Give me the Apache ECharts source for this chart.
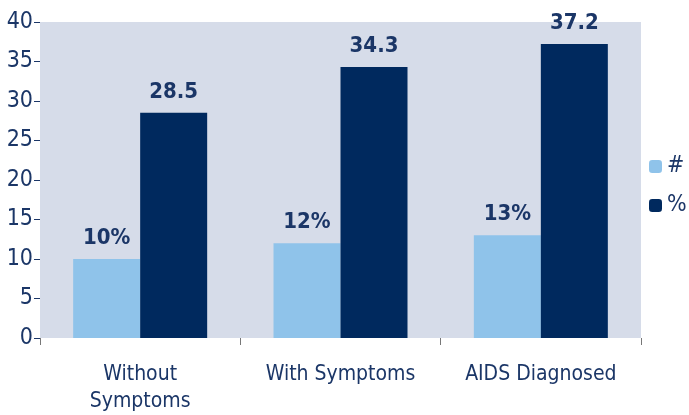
<!DOCTYPE html>
<html>
<head>
<meta charset="utf-8">
<script src="https://cdn.jsdelivr.net/npm/echarts@6/dist/echarts.min.js"></script>
</head>
<body style="margin:0">
<div id="container" style="width:689px;height:415px"></div>
<script>
  const categories = ['Without\nSymptoms', 'With Symptoms', 'AIDS Diagnosed'];
  const countValues = [10, 12, 13];
  const countLabels = ['10%', '12%', '13%'];
  const pctValues = [28.5, 34.3, 37.2];

  const font = '"Liberation Sans Narrow", "DejaVu Sans Condensed", sans-serif';
  const textColor = '#1b3667';

  const myChart = echarts.init(document.getElementById('container'));
  const option = {
    backgroundColor: '#fff',
    textStyle: { fontFamily: font },
    grid: {
      left: 40, right: 48, top: 22, bottom: 77,
      show: true, backgroundColor: '#d6dce9', borderWidth: 0
    },
    legend: {
      orient: 'vertical',
      left: 647, top: 153,
      itemWidth: 13, itemHeight: 13, itemGap: 16, padding: 2,
      textStyle: { color: textColor, fontSize: 23, fontFamily: font },
      data: ['#', '%']
    },
    xAxis: {
      type: 'category',
      data: categories,
      axisLine: { show: false },
      axisTick: { show: true, length: 7, lineStyle: { color: '#777' } },
      axisLabel: { color: textColor, fontSize: 21, lineHeight: 27, margin: 23, fontFamily: font }
    },
    yAxis: {
      type: 'value',
      min: 0, max: 40, interval: 5,
      splitLine: { show: false },
      axisLine: { show: false },
      axisTick: { show: true, length: 6, lineStyle: { color: textColor } },
      axisLabel: { color: textColor, fontSize: 23, margin: 7, fontFamily: font }
    },
    series: [
      {
        name: '#', type: 'bar', data: countValues,
        barWidth: 67, barGap: '0%',
        itemStyle: { color: '#8fc3ea' },
        label: {
          show: true, position: 'top', distance: 10,
          color: textColor, fontSize: 22, fontWeight: 'bold', fontFamily: font,
          formatter: p => countLabels[p.dataIndex]
        }
      },
      {
        name: '%', type: 'bar', data: pctValues,
        barWidth: 67,
        itemStyle: { color: '#00295e' },
        label: {
          show: true, position: 'top', distance: 10,
          color: textColor, fontSize: 22, fontWeight: 'bold', fontFamily: font
        }
      }
    ]
  };
  myChart.setOption(option);
</script>
</body>
</html>
